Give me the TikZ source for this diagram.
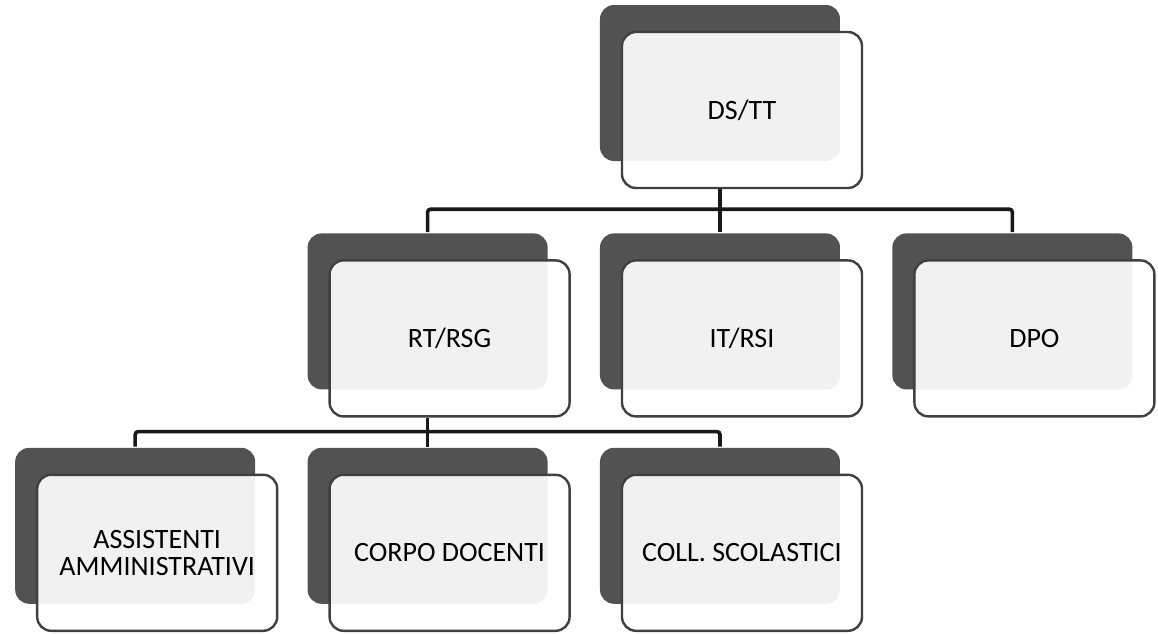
\documentclass[tikz,border=0pt]{standalone}
\usepackage{fontspec}
\setmainfont{Carlito}
\usepackage{tikz}
\usepackage{xcolor}
\usetikzlibrary{positioning, shadows}
\tikzstyle{unit} = [rectangle, rounded corners=7pt, minimum width=120pt, minimum height=78pt, text centered, align=center, draw=black!75, line width=1.2pt, fill=white, fill opacity=0.92, text opacity=1, font=\fontsize{14}{13.5}\selectfont, drop shadow={shadow xshift=-11pt, shadow yshift=13.5pt, opacity=1, fill=black!68}]
\tikzstyle{link} = [line width=1.8pt, black!90, rounded corners=1.5pt]

\begin{document}
\begin{tikzpicture}[node distance=35pt and 25pt]
\useasboundingbox (-371pt,55pt) rectangle (208pt,-261.5pt);

% Top level
\node (dstt) [unit] at (0,0) {DS/TT};

% Second level
\node (itrsi) [unit, below=of dstt] {IT/RSI};
\node (rtrsg) [unit, left=of itrsi] {RT/RSG};
\node (dpo) [unit, right=of itrsi] {DPO};

% Third level
\node (corpo) [unit, below=28pt of rtrsg] {CORPO DOCENTI};
\node (assist) [unit, left=of corpo] {ASSISTENTI\\AMMINISTRATIVI};
\node (coll) [unit, right=of corpo] {COLL. SCOLASTICI};

% Connectors
\coordinate (top-bus) at ([xshift=-11pt, yshift=-10pt]dstt.south);
\draw [link] ([xshift=-11pt]dstt.south) -- (top-bus);
\draw [link] (top-bus) -| ([xshift=-11pt, yshift=13.5pt]rtrsg.north);
\draw [link] (top-bus) -| ([xshift=-11pt, yshift=13.5pt]itrsi.north);
\draw [link] (top-bus) -| ([xshift=-11pt, yshift=13.5pt]dpo.north);

\coordinate (low-bus) at ([xshift=-11pt, yshift=-7pt]rtrsg.south);
\draw [link] ([xshift=-11pt]rtrsg.south) -- (low-bus);
\draw [link] (low-bus) -| ([xshift=-11pt, yshift=13.5pt]assist.north);
\draw [link] (low-bus) -| ([xshift=-11pt, yshift=13.5pt]corpo.north);
\draw [link] (low-bus) -| ([xshift=-11pt, yshift=13.5pt]coll.north);

\end{tikzpicture}
\end{document}
